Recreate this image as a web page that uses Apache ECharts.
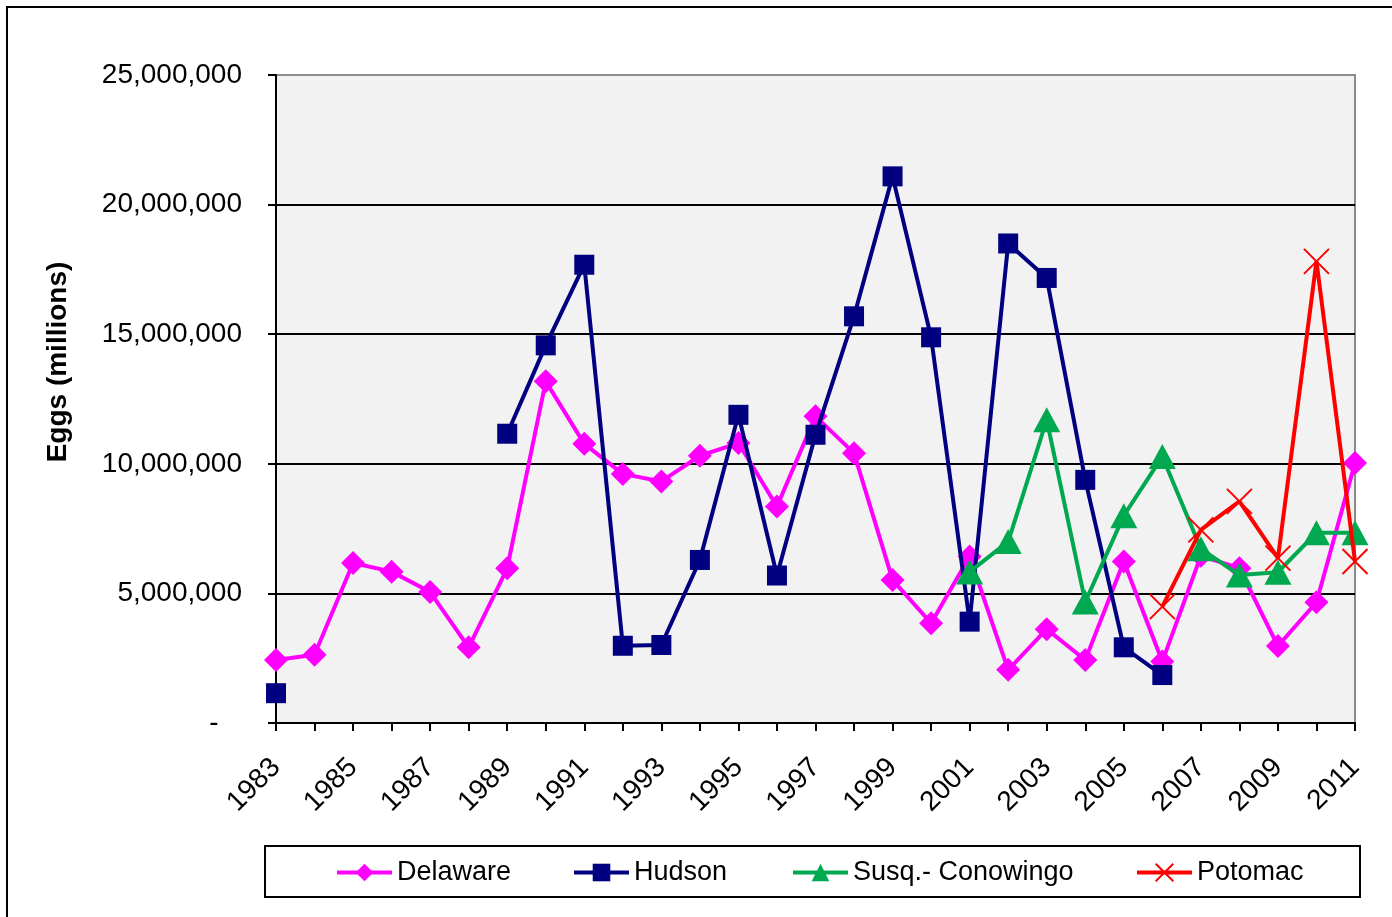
<!DOCTYPE html>
<html>
<head>
<meta charset="utf-8">
<title>Eggs by river</title>
<script src="https://cdn.jsdelivr.net/npm/echarts@6/dist/echarts.min.js"></script>
<style>
  html, body { margin: 0; padding: 0; background: #ffffff; }
  #chart { width: 1392px; height: 917px; }
</style>
</head>
<body>
<div id="chart"></div>
<script>
// Spawning survey years
const years = ['1983','1984','1985','1986','1987','1988','1989','1990','1991','1992',
  '1993','1994','1995','1996','1997','1998','1999','2000','2001','2002',
  '2003','2004','2005','2006','2007','2008','2009','2010','2011'];

// Egg estimates per river (null = no survey that year)
const delaware = [2430000, 2630000, 6170000, 5840000, 5050000, 2920000, 5970000, 13180000, 10770000, 9610000,
  9320000, 10310000, 10800000, 8350000, 11830000, 10410000, 5520000, 3850000, 6420000, 2050000,
  3620000, 2430000, 6230000, 2370000, 6450000, 5970000, 2970000, 4660000, 10030000];

const hudson = [1150000, null, null, null, null, null, 11160000, 14570000, 17680000, 2980000,
  3010000, 6290000, 11890000, 5690000, 11120000, 15690000, 21090000, 14880000, 3910000, 18500000,
  17170000, 9380000, 2920000, 1850000, null, null, null, null, null];

const susqConowingo = [null, null, null, null, null, null, null, null, null, null,
  null, null, null, null, null, null, null, null, 5830000, 7000000,
  11700000, 4670000, 8000000, 10280000, 6720000, 5710000, 5820000, 7340000, 7340000];

const potomac = [null, null, null, null, null, null, null, null, null, null,
  null, null, null, null, null, null, null, null, null, null,
  null, null, null, 4490000, 7450000, 8550000, 6360000, 17810000, 6230000];

const seriesNames = ['Delaware', 'Hudson', 'Susq.- Conowingo', 'Potomac'];
const yTitle = 'Eggs (millions)';

const FONT = '"Liberation Sans", Arial, sans-serif';

function withCommas(v) {
  return String(v).replace(/\B(?=(\d{3})+(?!\d))/g, ',');
}

const chart = echarts.init(document.getElementById('chart'), null, { renderer: 'canvas' });

const legendLefts = [335, 572, 791, 1135];

chart.setOption({
  animation: false,
  backgroundColor: '#ffffff',
  textStyle: { fontFamily: FONT },
  grid: {
    left: 276, right: 37, top: 75, bottom: 194,
    show: true,
    backgroundColor: '#f2f2f2',
    borderColor: '#8c8c8c',
    borderWidth: 2,
    containLabel: false
  },
  legend: seriesNames.map((name, i) => ({
    data: [name],
    left: legendLefts[i],
    top: 859,
    padding: 0,
    itemWidth: 55,
    itemHeight: 22,
    itemGap: 5,
    selectedMode: false,
    lineStyle: { width: 4 },
    textStyle: { fontFamily: FONT, fontSize: 27, color: '#000000' }
  })),
  xAxis: {
    type: 'category',
    data: years,
    boundaryGap: false,
    axisLine: { show: true, lineStyle: { color: '#000000', width: 2 } },
    axisTick: { show: true, interval: 0, length: 8, inside: false, lineStyle: { color: '#000000', width: 2 } },
    axisLabel: {
      interval: 1,
      rotate: 45,
      margin: 40,
      fontFamily: FONT,
      fontSize: 28,
      color: '#000000'
    },
    splitLine: { show: false }
  },
  yAxis: {
    type: 'value',
    min: 0,
    max: 25000000,
    interval: 5000000,
    axisLine: { show: true, lineStyle: { color: '#000000', width: 2 } },
    axisTick: { show: true, length: 8, inside: false, lineStyle: { color: '#000000', width: 2 } },
    axisLabel: {
      margin: 34,
      fontFamily: FONT,
      fontSize: 28,
      color: '#000000',
      formatter: v => (v === 0 ? '-   ' : withCommas(v))
    },
    splitLine: {
      show: true,
      showMinLine: false,
      showMaxLine: false,
      lineStyle: { color: '#000000', width: 2 }
    }
  },
  graphic: [
    {
      type: 'rect', silent: true, z: 100,
      shape: { x: 7, y: 7, width: 1420, height: 940 },
      style: { fill: null, stroke: '#000000', lineWidth: 2 }
    },
    {
      type: 'rect', silent: true, z: 100,
      shape: { x: 265, y: 846, width: 1095, height: 51 },
      style: { fill: null, stroke: '#000000', lineWidth: 2 }
    },
    {
      // vertical axis title
      type: 'text', silent: true,
      x: 58, y: 362,
      rotation: Math.PI / 2,
      style: {
        text: yTitle,
        font: 'bold 28px ' + FONT,
        fill: '#000000',
        align: 'center',
        verticalAlign: 'middle'
      }
    }
  ],
  series: [
    {
      name: 'Delaware',
      type: 'line',
      data: delaware,
      connectNulls: false,
      symbol: 'diamond',
      symbolSize: 24,
      showAllSymbol: true,
      lineStyle: { color: '#ff00ff', width: 4 },
      itemStyle: { color: '#ff00ff' },
      z: 2
    },
    {
      name: 'Hudson',
      type: 'line',
      data: hudson,
      connectNulls: false,
      symbol: 'rect',
      symbolSize: 20,
      showAllSymbol: true,
      lineStyle: { color: '#000080', width: 4 },
      itemStyle: { color: '#000080' },
      z: 3
    },
    {
      name: 'Susq.- Conowingo',
      type: 'line',
      data: susqConowingo,
      connectNulls: false,
      symbol: 'triangle',
      symbolSize: [27, 25],
      showAllSymbol: true,
      lineStyle: { color: '#00a84f', width: 4 },
      itemStyle: { color: '#00a84f' },
      z: 4
    },
    {
      name: 'Potomac',
      type: 'line',
      data: potomac,
      connectNulls: false,
      symbol: 'path://M0,0L10,10M10,0L0,10',
      symbolSize: 25,
      showAllSymbol: true,
      lineStyle: { color: '#ff0000', width: 4 },
      itemStyle: { color: '#ff0000', borderColor: '#ff0000', borderWidth: 2 },
      z: 5
    }
  ]
});
</script>
</body>
</html>
